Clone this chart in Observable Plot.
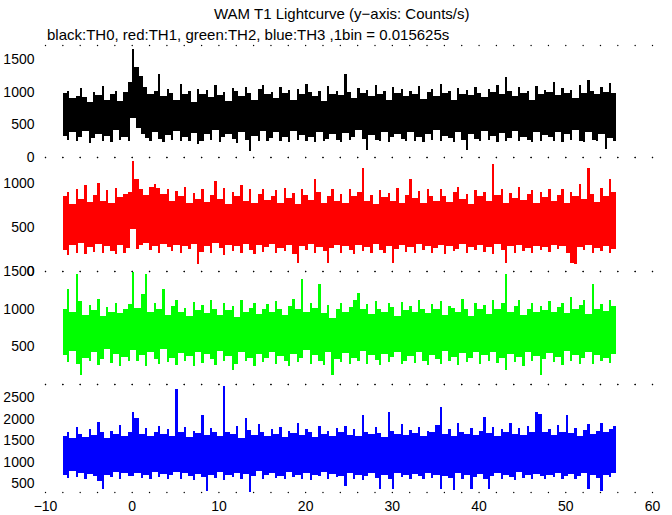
<!DOCTYPE html>
<html><head><meta charset="utf-8">
<script src="https://cdn.jsdelivr.net/npm/d3@7"></script>
<script src="https://cdn.jsdelivr.net/npm/@observablehq/plot@0.6"></script>
<style>
body{margin:0;background:#fff;}
#chart{position:relative;width:672px;height:515px;font-family:"Liberation Sans",Arial,sans-serif;}
.t{position:absolute;white-space:nowrap;font-size:15px;color:#000;line-height:1;}
#chart svg{position:absolute;left:0;overflow:visible;}
</style></head><body>
<div id="chart">
<div class="t" style="left:214px;top:6px">WAM T1 Lightcurve (y−axis: Counts/s)</div>
<div class="t" style="left:47px;top:27px">black:TH0, red:TH1, green:TH2, blue:TH3 ,1bin = 0.015625s</div>
</div>
<script>
// 0.5 s summary bins from -8 s to 56 s: the highest and lowest counts seen in each bin
const tStart = -8, tBin = 0.5;
const xTickLabels = [-10, 0, 10, 20, 30, 40, 50, 60];
const xMinorTicks = [-10,-8,-6,-4,-2,0,2,4,6,8,10,12,14,16,18,20,22,24,26,28,30,32,34,36,38,40,42,44,46,48,50,52,54,56,58,60];

const th0Hi = [980,1010,900,940,1060,920,850,1000,950,1090,880,960,1020,860,1000,1150,
1660,1380,1250,1080,960,1010,1280,940,1050,980,870,1120,960,1010,850,1040,
970,1030,920,1100,950,1000,860,1060,1010,930,1080,990,880,1040,1110,960,
1000,910,1070,980,1030,870,1050,960,1120,1000,940,1020,860,1090,970,1010,
950,1280,1000,900,1060,990,1030,940,1100,960,1010,880,1070,980,1040,930,
1020,960,1090,890,1000,1050,940,1120,980,1010,870,1060,970,1030,950,1080,
990,920,1040,1000,1110,960,1230,1010,940,1070,980,1020,880,1090,960,1030,
1000,1150,950,1060,980,1030,900,1100,990,1180,1010,960,1070,1000,1140,980];
const th0Lo = [330,260,380,240,310,400,220,290,350,250,320,230,410,260,300,240,
600,450,360,290,250,390,270,230,340,260,400,240,310,250,370,200,
240,360,260,410,230,300,350,280,220,380,260,90,330,250,400,240,
290,380,250,310,230,400,260,340,240,310,230,390,250,280,350,260,
230,370,260,300,410,280,100,340,260,240,390,230,300,360,270,240,
390,250,300,230,360,260,410,240,330,290,230,380,260,110,350,280,
240,400,260,330,230,370,250,290,400,240,310,260,230,380,250,340,
300,240,390,230,350,260,410,250,230,380,260,240,360,130,290,250];

const th1Hi = [850,900,760,940,820,980,790,870,1000,800,920,770,950,840,880,900,
1260,1050,930,870,960,990,950,880,940,800,910,850,960,780,890,820,
930,790,870,1030,820,950,760,900,850,980,800,930,770,880,940,810,
860,920,780,950,830,890,760,940,870,810,1050,900,770,860,930,800,
880,780,940,850,900,1180,800,870,760,920,840,890,800,950,780,870,
1050,830,910,770,940,860,800,930,850,790,900,960,820,880,760,920,
850,900,800,1220,870,940,780,890,830,960,810,880,920,770,900,840,
940,800,870,930,780,900,860,990,820,1180,880,790,950,860,1050,900];
const th1Lo = [240,180,300,210,320,190,270,220,310,200,280,230,190,300,210,260,
480,250,300,320,240,290,210,310,270,230,300,200,280,250,310,80,
220,290,200,320,260,180,300,230,280,210,310,240,190,300,220,270,
310,200,260,230,300,190,90,280,240,310,200,270,230,90,260,300,
210,280,240,190,300,230,270,210,310,240,200,290,90,250,300,220,
270,200,310,240,290,210,260,300,190,280,230,250,310,200,270,240,
300,220,270,190,310,240,90,280,210,300,230,260,200,290,240,270,
220,300,250,280,200,90,80,270,240,300,210,260,230,290,200,250];

const th2Hi = [1000,1255,950,1460,1100,920,1050,980,1130,900,1020,960,1080,940,1000,1060,
1487,1010,1200,1460,950,1080,1000,1263,920,1040,1120,960,1010,900,1090,980,
1050,940,1110,1000,920,1070,980,1030,890,1120,960,1010,1080,930,1000,1060,
950,1100,990,920,1040,1130,1000,1395,960,1070,1010,1330,940,1050,880,1000,
1080,960,1020,1110,1210,990,1060,930,1100,1000,950,1070,1020,900,1090,980,
1030,960,1120,1000,940,1060,990,1100,920,1040,1010,960,1130,1000,900,1070,
990,1050,930,1120,1000,1080,1460,960,1040,1110,920,1000,1070,950,1030,980,
1100,960,1020,1080,940,1150,1000,1050,1120,930,1330,1000,1060,970,1110,1040];
const th2Lo = [380,290,440,260,114,350,300,420,250,330,460,280,400,240,360,310,
450,300,380,240,420,330,270,460,290,350,250,410,300,370,240,430,
280,400,330,250,440,300,370,180,260,420,310,350,240,400,290,340,
430,260,370,310,240,400,290,350,450,270,380,300,250,420,114,330,
290,410,260,350,300,440,270,380,320,250,400,290,360,430,260,310,
370,280,420,300,250,390,330,270,440,300,360,250,410,290,340,420,
260,380,310,430,280,350,180,400,290,360,240,420,300,370,114,330,
410,290,360,250,440,300,380,270,340,420,260,390,310,350,280,400];

const th3Hi = [1600,1700,1550,1800,1650,1580,1750,1620,1926,1680,1560,1720,1640,1850,1600,1700,
2159,2004,1650,1780,1590,1700,1820,1640,1750,1600,2680,1690,1800,1580,1720,1660,
2081,1620,1770,1680,1590,2756,1700,1650,1820,1560,2004,1740,1630,1880,1690,1600,
1750,1640,1800,1580,1710,1660,1900,1620,1760,1690,1580,1830,1650,1720,1600,1780,
1680,1830,1620,1750,1590,2081,1700,1640,1800,1660,1580,2159,1720,1650,1870,1610,
1740,1660,1800,1590,1720,1680,1850,2275,1640,1760,1600,1900,1700,1650,1780,1620,
1720,2027,1660,1810,1600,1750,1680,1900,1640,1770,1610,1830,1700,2159,2100,1680,
1760,1620,1850,1700,2081,1660,1790,1600,1740,1880,1650,1720,1900,1680,1760,1820];
const th3Lo = [700,620,780,650,740,600,720,680,560,376,700,640,760,610,730,660,
680,750,620,700,590,770,650,720,610,690,760,600,730,660,580,710,
640,320,700,620,760,580,690,650,740,600,720,300,660,780,610,700,
730,620,680,590,760,650,700,610,740,580,690,660,770,600,720,640,
680,430,750,610,700,580,660,730,620,376,690,600,376,740,650,700,
610,720,660,590,750,630,700,376,680,620,340,740,600,690,376,650,
720,600,376,680,740,610,700,650,580,760,630,690,600,720,660,590,
700,640,750,600,680,720,610,660,740,376,690,620,330,700,650,730];

const panelColors = ["#000000", "#ff0000", "#00ff00", "#0000ff"];
const panelTicks = [[0,500,1000,1500],[0,500,1000],[500,1000,1500],[500,1000,1500,2000,2500]];
const panelDomains = [[0,1720],[0,1300],[0,1500],[300,2800]];
const panelTops = [45,157,271,384];
const panelHeights = [112,114,113,108];

const series = [[th0Hi,th0Lo],[th1Hi,th1Lo],[th2Hi,th2Lo],[th3Hi,th3Lo]];
const chart = document.getElementById("chart");

series.forEach(([hi, lo], k) => {
  // each bin's sample range drawn as a thin column
  const bins = hi.map((h, i) => ({t: tStart + i*tBin, hi: h, lo: lo[i]}));
  // the light-curve line passing from one bin to the next covers the range shared by both bins
  const links = hi.slice(0, -1).map((h, i) => ({
    t: tStart + i*tBin,
    hi: Math.min(h, hi[i+1]),
    lo: Math.max(lo[i], lo[i+1])
  }));
  const dom = panelDomains[k];
  const last = k === 3;
  const c = panelColors[k];
  const svg = Plot.plot({
    width: 672, height: panelHeights[k],
    marginLeft: 45, marginRight: 20, marginTop: 0, marginBottom: 0,
    style: {fontSize: "14px", fontFamily: "'Liberation Sans', Arial, sans-serif", color: "#000", background: "transparent", overflow: "visible"},
    x: {domain: [-10, 60], axis: last ? "bottom" : null, ticks: xTickLabels, tickFormat: d => d < 0 ? "−" + (-d) : String(d), tickSize: 0, tickPadding: 9, label: null},
    y: {domain: dom, ticks: panelTicks[k], tickFormat: d => String(d), tickSize: 0, tickPadding: 11, label: null},
    marks: [
      Plot.rect(bins, {x1: d => d.t + 0.03, x2: d => d.t + 0.3, y1: "lo", y2: "hi", fill: c, shapeRendering: "crispEdges"}),
      Plot.rect(links, {x1: d => d.t + 0.27, x2: d => d.t + 0.56, y1: "lo", y2: "hi", fill: c, shapeRendering: "crispEdges"}),
      Plot.dot(xMinorTicks, {x: d => d, y: () => dom[1], r: 0.7, fill: "#000", stroke: null}),
      Plot.dot(xMinorTicks, {x: d => d, y: () => dom[0], r: 0.7, fill: "#000", stroke: null})
    ]
  });
  svg.style.top = panelTops[k] + "px";
  chart.appendChild(svg);
});
</script>
</body></html>
